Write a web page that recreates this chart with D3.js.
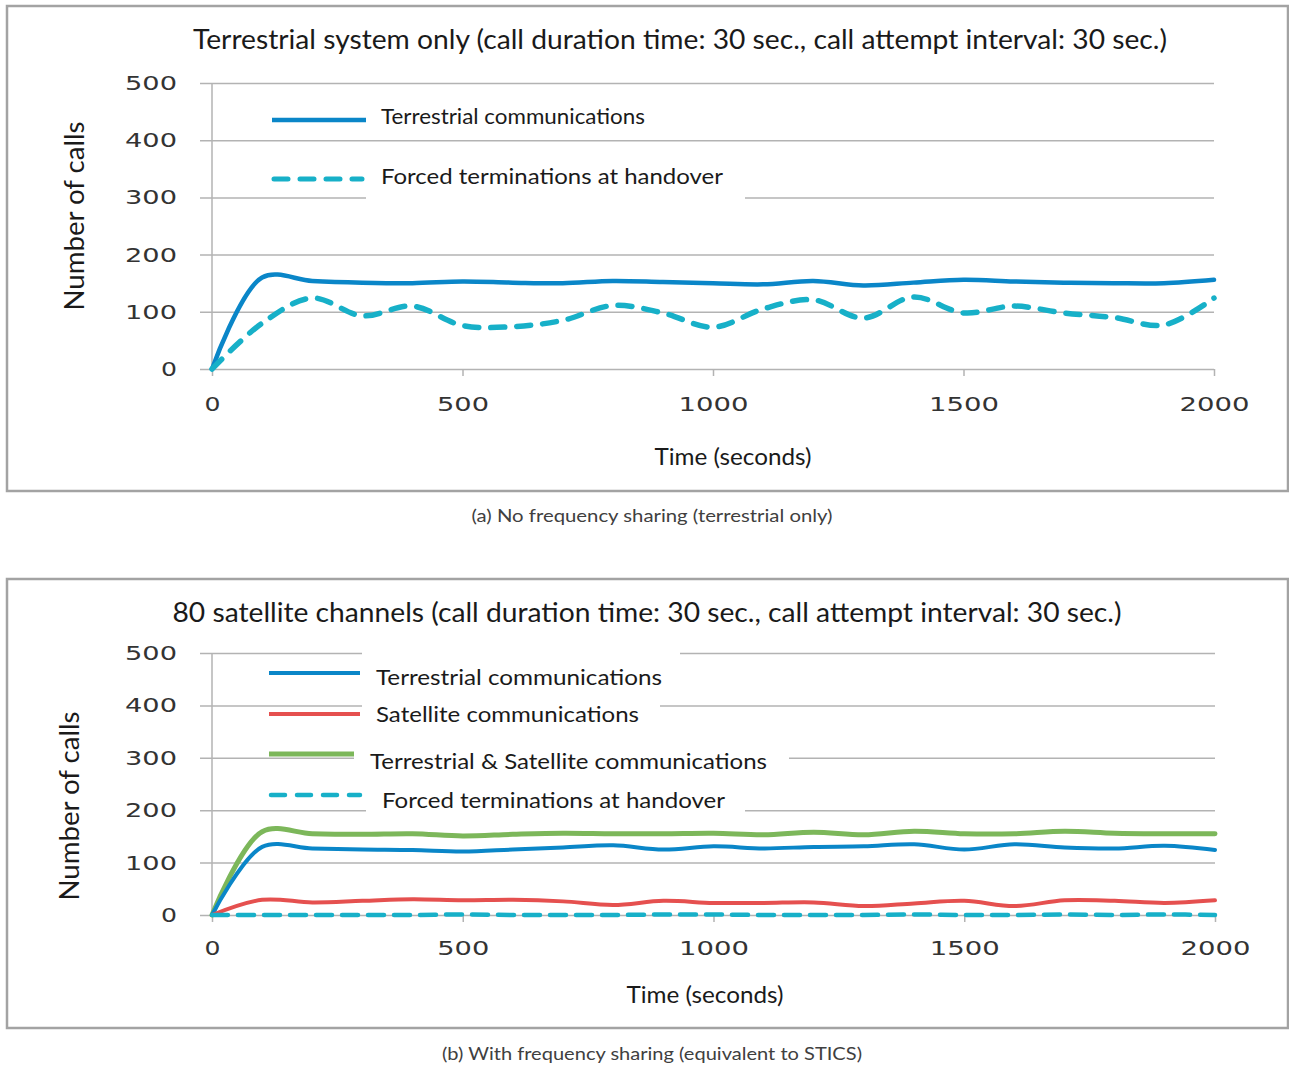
<!DOCTYPE html>
<html>
<head>
<meta charset="utf-8">
<script src="https://cdn.jsdelivr.net/npm/d3@7/dist/d3.min.js"></script>
<style>
  body { margin: 0; background: #fff; }
  svg { display: block; }
</style>
</head>
<body>
<svg id="fig" width="1289" height="1068"></svg>
<script>
// sample times (seconds)
const times = [0, 100, 200, 300, 400, 500, 600, 700, 800, 900, 1000,
               1100, 1200, 1300, 1400, 1500, 1600, 1700, 1800, 1900, 2000];

// (a) terrestrial only
const topTerrestrial = [0, 160, 154, 151, 150, 153, 151, 150, 154, 152, 150,
                        148, 154, 146, 151, 156, 153, 151, 150, 150, 156];
const topForced      = [0, 80, 124, 93, 110, 76, 74, 85, 111, 98, 73,
                        105, 121, 89, 126, 98, 110, 98, 90, 77, 124];

// (b) 80 satellite channels
const botTerrestrial = [0, 130, 127, 125, 124, 121, 125, 129, 133, 125, 131,
                        127, 130, 131, 135, 125, 135, 129, 127, 132, 124];
const botSatellite   = [0, 29, 24, 27, 30, 28, 29, 26, 19, 27, 23,
                        23, 24, 17, 22, 27, 17, 28, 27, 23, 28];
const botCombined    = [0, 159, 155, 154, 155, 151, 154, 156, 155, 155, 156,
                        153, 158, 153, 160, 155, 155, 160, 156, 155, 155];
const botForced      = [0, 0, 0, 0, 0, 1, 0, 0, 0, 1, 1,
                        0, 0, 0, 1, 0, 0, 1, 0, 1, 0];

const yTicks = [0, 100, 200, 300, 400, 500];
const xTicks = [0, 500, 1000, 1500, 2000];

const topLegend = ["Terrestrial communications", "Forced terminations at handover"];
const botLegend = ["Terrestrial communications", "Satellite communications",
                   "Terrestrial & Satellite communications", "Forced terminations at handover"];

const BLUE = "#0a86c8", CYAN = "#17b0c8", RED = "#e5504f", GREEN = "#7cb75a";
const GRID = "#b3b3b3";
const TEXT_FONT = "Lato, 'Open Sans', sans-serif";
const TICK_FONT = "'DejaVu Sans', sans-serif";

const svg = d3.select("#fig");

// text helper: squeeze/stretch a string to the measured width
function label(g, str, x, y, size, width, anchor, color) {
  return g.append("text")
    .attr("x", x).attr("y", y).attr("dy", "0.35em")
    .attr("text-anchor", anchor || "start")
    .attr("font-family", TEXT_FONT).attr("font-size", size)
    .attr("fill", color || "#1a1a1a")
    .attr("textLength", width).attr("lengthAdjust", "spacingAndGlyphs")
    .text(str);
}

function panel(o) {
  const g = svg.append("g");

  g.append("rect")
    .attr("x", o.frame[0]).attr("y", o.frame[1])
    .attr("width", o.frame[2] - o.frame[0]).attr("height", o.frame[3] - o.frame[1])
    .attr("fill", "none").attr("stroke", "#a3a3a3").attr("stroke-width", 2.5);

  const x = d3.scaleLinear().domain([0, 2000]).range([212, o.xEnd]);
  const y = d3.scaleLinear().domain([0, 500]).range([o.y0, o.y500]);

  // gridlines + y tick labels
  const ya = g.append("g").attr("transform", "translate(212,0)")
    .call(d3.axisLeft(y).tickValues(yTicks).tickFormat(d3.format("d"))
      .tickSizeInner(-(o.xEnd - 212)).tickSizeOuter(0).tickPadding(35));
  ya.select(".domain").remove();
  ya.selectAll(".tick line").attr("x1", -12).attr("stroke", GRID).attr("stroke-width", 1.5);
  ya.selectAll(".tick text")
    .attr("font-family", TICK_FONT).attr("font-size", 20).attr("fill", "#333")
    .attr("textLength", d => String(d).length * 18 - 2).attr("lengthAdjust", "spacingAndGlyphs");

  // vertical axis line
  g.append("line")
    .attr("x1", 212).attr("x2", 212).attr("y1", y(500)).attr("y2", y(0))
    .attr("stroke", GRID).attr("stroke-width", 1.5);

  // x ticks + labels
  const xa = g.append("g").attr("transform", `translate(0,${o.y0})`)
    .call(d3.axisBottom(x).tickValues(xTicks).tickFormat(d3.format("d"))
      .tickSize(7).tickSizeOuter(0));
  xa.select(".domain").remove();
  xa.selectAll(".tick line").attr("stroke", GRID).attr("stroke-width", 1.5);
  xa.selectAll(".tick text")
    .attr("y", o.xLabY - o.y0).attr("dy", "0.35em")
    .attr("font-family", TICK_FONT).attr("font-size", 20).attr("fill", "#333")
    .attr("textLength", d => String(d).length * 18 - 2).attr("lengthAdjust", "spacingAndGlyphs");

  // titles
  label(g, o.title, o.titleX, o.titleY, 26, o.titleW, "middle");
  label(g, "Time (seconds)", o.xTitleX, o.xTitleY, 24, 157, "middle");
  label(g, "Number of calls", 0, 0, 27, 189, "middle")
    .attr("transform", `translate(${o.yTitleX},${o.yTitleY}) rotate(-90)`);
  label(g, o.caption, 652, o.captionY, 18, o.captionW, "middle", "#404040");

  // legend
  o.legend.forEach(e => {
    g.append("rect")
      .attr("x", e.box[0]).attr("y", e.box[1])
      .attr("width", e.box[2] - e.box[0]).attr("height", e.box[3] - e.box[1])
      .attr("fill", "#fff");
    g.append("line")
      .attr("x1", e.line[0]).attr("x2", e.line[1]).attr("y1", e.ly).attr("y2", e.ly)
      .attr("stroke", e.color).attr("stroke-width", e.width)
      .attr("stroke-dasharray", e.dash || null)
      .attr("stroke-linecap", e.dash ? "round" : "butt");
    label(g, e.name, e.tx, e.ty, 22, e.tw, "start");
  });

  // series
  const line = d3.line()
    .x((d, i) => x(times[i]))
    .y(d => y(d))
    .curve(d3.curveCatmullRom);

  o.series.forEach(s => {
    g.append("path")
      .attr("d", line(s.values))
      .attr("fill", "none")
      .attr("stroke", s.color).attr("stroke-width", s.width)
      .attr("stroke-dasharray", s.dash || null)
      .attr("stroke-linecap", "round").attr("stroke-linejoin", "round");
  });
}

panel({
  frame: [7, 6, 1288, 491],
  xEnd: 1214, y0: 369, y500: 83, xLabY: 404,
  title: "Terrestrial system only (call duration time: 30 sec., call attempt interval: 30 sec.)",
  titleX: 680, titleY: 40, titleW: 974,
  xTitleX: 733, xTitleY: 457,
  yTitleX: 75, yTitleY: 216,
  caption: "(a) No frequency sharing (terrestrial only)", captionY: 516, captionW: 361,
  legend: [
    { name: topLegend[0], color: BLUE, width: 4.5, line: [272, 366], ly: 120,
      tx: 381, ty: 116, tw: 264, box: [366, 98, 660, 136] },
    { name: topLegend[1], color: CYAN, width: 5, dash: "14,12", line: [274, 362], ly: 179,
      tx: 381, ty: 176, tw: 342, box: [366, 156, 745, 201] }
  ],
  series: [
    { values: topTerrestrial, color: BLUE, width: 4.5 },
    { values: topForced, color: CYAN, width: 5.5, dash: "14,12" }
  ]
});

panel({
  frame: [7, 579, 1288, 1028],
  xEnd: 1215, y0: 915, y500: 653, xLabY: 948,
  title: "80 satellite channels (call duration time: 30 sec., call attempt interval: 30 sec.)",
  titleX: 647, titleY: 613, titleW: 949,
  xTitleX: 705, xTitleY: 995,
  yTitleX: 70, yTitleY: 806,
  caption: "(b) With frequency sharing (equivalent to STICS)", captionY: 1054, captionW: 420,
  legend: [
    { name: botLegend[0], color: BLUE, width: 4, line: [269, 360], ly: 673,
      tx: 376, ty: 677, tw: 286, box: [362, 648, 680, 697] },
    { name: botLegend[1], color: RED, width: 4, line: [269, 360], ly: 714,
      tx: 376, ty: 714, tw: 263, box: [362, 699, 660, 730] },
    { name: botLegend[2], color: GREEN, width: 5, line: [269, 354], ly: 754,
      tx: 370, ty: 761, tw: 397, box: [354, 744, 789, 777] },
    { name: botLegend[3], color: CYAN, width: 4.5, dash: "14,12", line: [271, 360], ly: 795,
      tx: 382, ty: 800, tw: 343, box: [366, 784, 745, 816] }
  ],
  series: [
    { values: botCombined, color: GREEN, width: 5 },
    { values: botTerrestrial, color: BLUE, width: 4 },
    { values: botSatellite, color: RED, width: 4 },
    { values: botForced, color: CYAN, width: 4.5, dash: "16,10" }
  ]
});
</script>
</body>
</html>
